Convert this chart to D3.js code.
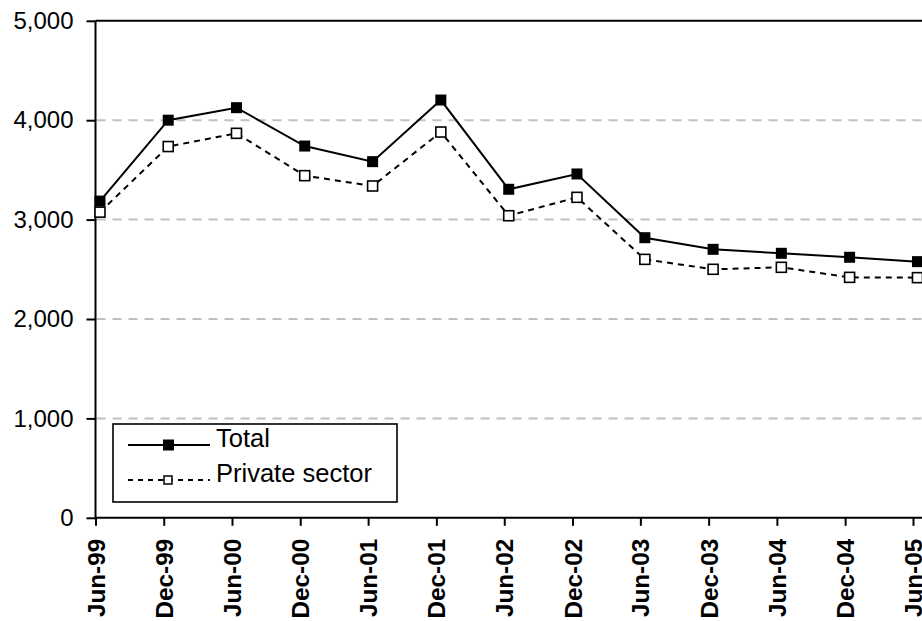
<!DOCTYPE html>
<html><head><meta charset="utf-8">
<script src="https://cdn.jsdelivr.net/npm/d3@7"></script>
<style>
body{margin:0;background:#fff;}
svg{display:block;font-family:"Liberation Sans",Arial,sans-serif;}
</style></head>
<body><svg id="c" width="922" height="621"></svg>
<script>
const categories = ["Jun-99","Dec-99","Jun-00","Dec-00","Jun-01","Dec-01","Jun-02","Dec-02","Jun-03","Dec-03","Jun-04","Dec-04","Jun-05"];
const tickDates = ["1999-06-01","1999-12-01","2000-06-01","2000-12-01","2001-06-01","2001-12-01","2002-06-01","2002-12-01","2003-06-01","2003-12-01","2004-06-01","2004-12-01","2005-06-01"];
const dataDates = ["1999-06-13","1999-12-13","2000-06-13","2000-12-13","2001-06-13","2001-12-13","2002-06-13","2002-12-13","2003-06-13","2003-12-13","2004-06-13","2004-12-13","2005-06-13"];
const totalValues = [3186,4000,4126,3740,3583,4203,3305,3459,2818,2701,2661,2621,2577];
const privateValues = [3075,3735,3868,3442,3338,3881,3039,3224,2600,2500,2520,2419,2416];
const yTicks = [0,1000,2000,3000,4000,5000];
const gridTicks = [1000,2000,3000,4000];
const seriesNames = ["Total","Private sector"];

const parse = d3.timeParse("%Y-%m-%d");
const svg = d3.select("#c");
const x = d3.scaleTime().domain([parse(tickDates[0]), parse(tickDates[tickDates.length-1])]).range([95.5, 913]);
const y = d3.scaleLinear().domain([0,5000]).range([517.8, 20.8]);
const left = 95.5, right = 922;

// gridlines
svg.append("g").selectAll("line").data(gridTicks).join("line")
  .attr("x1", left+1).attr("x2", right)
  .attr("y1", d=>y(d)).attr("y2", d=>y(d))
  .attr("stroke", "#c0c0c0").attr("stroke-width", 2).attr("stroke-dasharray", "9,7");

// top border
svg.append("line").attr("x1", left).attr("x2", right).attr("y1", y(5000)).attr("y2", y(5000))
  .attr("stroke", "#000").attr("stroke-width", 2);

// y axis
const yAxis = d3.axisLeft(y).tickValues(yTicks).tickSize(9).tickPadding(13).tickFormat(d3.format(","));
const gy = svg.append("g").attr("transform", `translate(${left},0)`).call(yAxis);
gy.select(".domain").attr("stroke-width", 2).attr("d", `M0,${y(0)}V${y(5000)}`);
gy.selectAll(".tick line").attr("stroke-width", 2);
gy.selectAll("text").attr("font-size", 24).attr("fill", "#000").attr("font-family", "Liberation Sans, Arial, sans-serif");

// x axis
const xAxis = d3.axisBottom(x).tickValues(tickDates.map(parse)).tickSize(8)
  .tickFormat((d,i)=>categories[i]);
const gx = svg.append("g").attr("transform", `translate(0,${y(0)})`).call(xAxis);
gx.select(".domain").attr("stroke-width", 2).attr("d", `M${left},0H${right}`);
gx.selectAll(".tick line").attr("stroke-width", 2);
gx.selectAll("text").attr("font-size", 24.3).attr("font-weight", "bold").attr("fill", "#000")
  .attr("font-family", "Liberation Sans, Arial, sans-serif")
  .attr("transform", "rotate(-90)").attr("text-anchor", "end")
  .attr("x", -21).attr("y", 0).attr("dy", "0.35em");

const totalData = dataDates.map((d,i)=>({date: parse(d), v: totalValues[i]}));
const privData = dataDates.map((d,i)=>({date: parse(d), v: privateValues[i]}));
const line = d3.line().x(d=>x(d.date)).y(d=>y(d.v));

svg.append("path").datum(privData).attr("d", line).attr("fill","none")
  .attr("stroke","#000").attr("stroke-width",2).attr("stroke-dasharray","6,5");
svg.append("path").datum(totalData).attr("d", line).attr("fill","none")
  .attr("stroke","#000").attr("stroke-width",2);

const ms = 11;
svg.append("g").selectAll("rect").data(privData).join("rect")
  .attr("x", d=>x(d.date)-5).attr("y", d=>y(d.v)-5).attr("width", 10).attr("height", 10)
  .attr("fill","#fff").attr("stroke","#000").attr("stroke-width",1.6);
svg.append("g").selectAll("rect").data(totalData).join("rect")
  .attr("x", d=>x(d.date)-ms/2).attr("y", d=>y(d.v)-ms/2).attr("width", ms).attr("height", ms)
  .attr("fill","#000");

// legend
const lg = svg.append("g");
lg.append("rect").attr("x",113).attr("y",424).attr("width",284).attr("height",78)
  .attr("fill","#fff").attr("stroke","#000").attr("stroke-width",1.6);
const rows = [{name: seriesNames[0], cy: 445, dash: null, filled: true},
              {name: seriesNames[1], cy: 480, dash: "5,5", filled: false}];
rows.forEach(r=>{
  lg.append("line").attr("x1",128).attr("x2",210).attr("y1",r.cy).attr("y2",r.cy)
    .attr("stroke","#000").attr("stroke-width",2).attr("stroke-dasharray", r.dash);
  if (r.filled) {
    lg.append("rect").attr("x",163).attr("y",r.cy-5.5).attr("width",11).attr("height",11).attr("fill","#000");
  } else {
    lg.append("rect").attr("x",164).attr("y",r.cy-4).attr("width",8).attr("height",8)
      .attr("fill","#fff").attr("stroke","#000").attr("stroke-width",1.5);
  }
  lg.append("text").attr("x",216).attr("y",r.cy+1.5).attr("font-size",25.5).attr("fill","#000")
    .text(r.name);
});
</script></body></html>
